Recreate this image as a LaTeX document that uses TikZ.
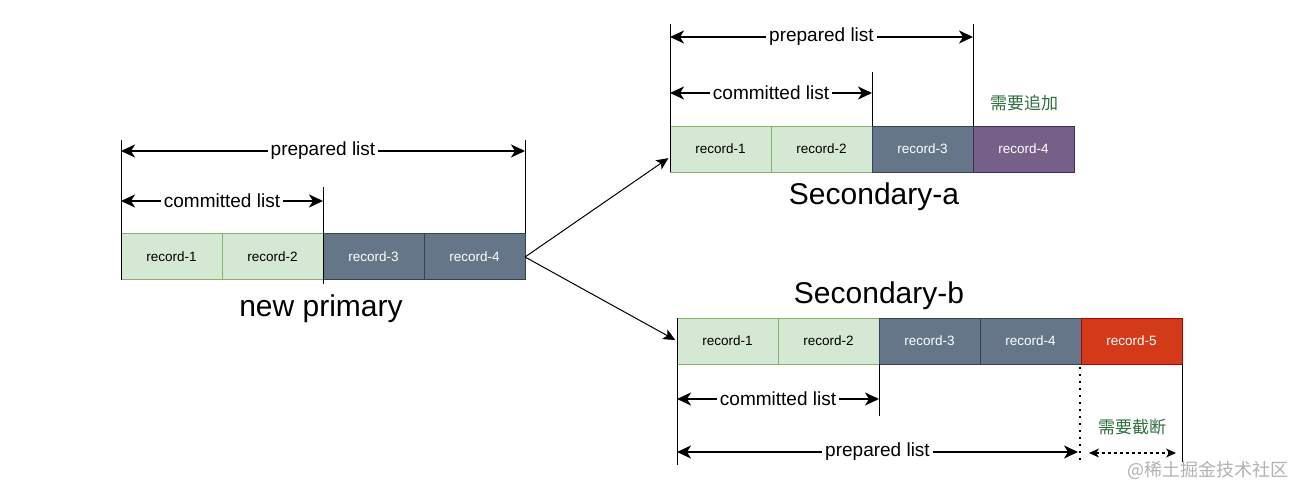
\documentclass[tikz,border=0pt]{standalone}
\usepackage{fontspec}
\setmainfont{Liberation Sans}
\newfontfamily\cjk{Noto Sans CJK SC}
\usetikzlibrary{arrows.meta}
\definecolor{gfill}{HTML}{D5E8D4}
\definecolor{gline}{HTML}{82B366}
\definecolor{sfill}{HTML}{647687}
\definecolor{sline}{HTML}{314354}
\definecolor{pfill}{HTML}{76608A}
\definecolor{pline}{HTML}{432D57}
\definecolor{rfill}{HTML}{D23A1A}
\definecolor{rline}{HTML}{B20000}
\definecolor{ctext}{HTML}{2E7040}
\tikzset{
  rec/.style={minimum width=101pt,minimum height=46pt,inner sep=0pt,outer sep=0pt,font=\fontsize{13.5}{15}\selectfont},
  grec/.style={rec,fill=gfill,draw=gline,text=black},
  srec/.style={rec,fill=sfill,draw=sline,text=white},
  prec/.style={rec,fill=pfill,draw=pline,text=white},
  rrec/.style={rec,fill=rfill,draw=rline,text=white},
  vline/.style={draw=black,line width=1pt},
  dim/.style={line width=1.8pt,{Stealth[length=14pt,width=13pt,inset=4pt]}-{Stealth[length=14pt,width=13pt,inset=4pt]}},
  lbl/.style={fill=white,inner sep=3pt,font=\fontsize{19}{21}\selectfont},
  title/.style={font=\fontsize{30}{33}\selectfont},
  cn/.style={text=ctext,font=\cjk\fontsize{17}{19}\selectfont},
  conn/.style={line width=1pt,shorten >=2pt,-{Stealth[length=12pt,width=11pt,inset=3pt]}}
}
\begin{document}
\begin{tikzpicture}[x=1pt,y=-1pt]
\useasboundingbox[fill=white] (0,0) rectangle (1304,497);
% ---------- new primary ----------
\node[grec] (p1) at (171.5,256.5) {record-1};
\node[grec] (p2) at (272.5,256.5) {record-2};
\node[srec] (p3) at (373.5,256.5) {record-3};
\node[srec] (p4) at (474.5,256.5) {record-4};
\node[title] (ptitle) at (321,309) {new primary};
\coordinate (pL) at (121,140);
\coordinate (pR) at (525,140);
\coordinate (pM) at (323,187);
\coordinate (pMb) at (323,284);
\draw[vline] (p1.south west) -- (pL);
\draw[vline] (p4.north east) -- (pR);
\draw[vline] (pMb) -- (pM);
\coordinate (pa1) at (121,151);
\coordinate (pa2) at (525,151);
\coordinate (pc1) at (121,201);
\coordinate (pc2) at (323,201);
\draw[dim] (pa1) -- node[lbl] (plp) {prepared list} (pa2);
\draw[dim] (pc1) -- node[lbl] (plc) {committed list} (pc2);
% ---------- Secondary-a ----------
\node[grec] (a1) at (720.5,149) {record-1};
\node[grec] (a2) at (821.5,149) {record-2};
\node[srec] (a3) at (922.5,149) {record-3};
\node[prec] (a4) at (1023.5,149) {record-4};
\node[title] (atitle) at (874,197) {Secondary-a};
\node[cn] (aadd) at (1024,103) {需要追加};
\coordinate (aL) at (670,24);
\coordinate (aR) at (973,24);
\coordinate (aM) at (872,72);
\draw[vline] (a1.south west) -- (aL);
\draw[vline] (a4.north west) -- (aR);
\draw[vline] (a3.north west) -- (aM);
\coordinate (aa1) at (670,37);
\coordinate (aa2) at (973,37);
\coordinate (ac1) at (670,93);
\coordinate (ac2) at (872,93);
\draw[dim] (aa1) -- node[lbl] (alp) {prepared list} (aa2);
\draw[dim] (ac1) -- node[lbl] (alc) {committed list} (ac2);
% ---------- Secondary-b ----------
\node[grec] (b1) at (727.5,341) {record-1};
\node[grec] (b2) at (828.5,341) {record-2};
\node[srec] (b3) at (929.5,341) {record-3};
\node[srec] (b4) at (1030.5,341) {record-4};
\node[rrec] (b5) at (1131.5,341) {record-5};
\node[title] (btitle) at (879,296) {Secondary-b};
\node[cn] (bcut) at (1132,427) {需要截断};
\coordinate (bL) at (677,465);
\coordinate (bR) at (1182,462);
\coordinate (bM) at (879,416);
\coordinate (bDt) at (1080,367);
\coordinate (bDb) at (1080,462);
\draw[vline] (b1.north west) -- (bL);
\draw[vline] (b5.south east) -- (bR);
\draw[vline] (b3.south west) -- (bM);
\draw[line width=2pt,dash pattern=on 2pt off 5pt] (bDt) -- (bDb);
\coordinate (bc1) at (677,399);
\coordinate (bc2) at (879,399);
\coordinate (ba1) at (677,452);
\coordinate (ba2) at (1078,452);
\coordinate (bd1) at (1089,453);
\coordinate (bd2) at (1176,453);
\draw[dim] (bc1) -- node[lbl] (blc) {committed list} (bc2);
\draw[dim] (ba1) -- node[lbl] (blp) {prepared list} (ba2);
\draw[line width=1.2pt,dash pattern=on 3pt off 3pt,{Stealth[length=10pt,width=9pt,inset=3pt]}-{Stealth[length=10pt,width=9pt,inset=3pt]}] (bd1) -- (bd2);
% ---------- connectors ----------
\coordinate (pout) at (525,257);
\draw[conn] (pout) -- (a1.west |- 0,157);
\draw[conn] (pout) -- (b1.west);
% ---------- watermark ----------
\node[text=black!30,font=\cjk\fontsize{18}{20}\selectfont,anchor=east] (wm) at (1292,470) {@稀土掘金技术社区};
\end{tikzpicture}
\end{document}
